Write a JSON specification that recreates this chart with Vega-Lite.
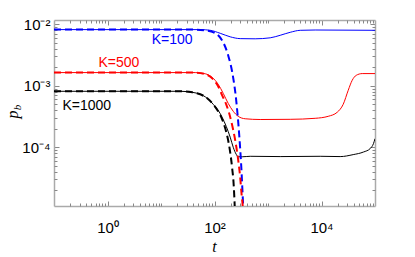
{
  "$schema": "https://vega.github.io/schema/vega-lite/v6.json",
  "width": 321,
  "height": 186,
  "autosize": {"type": "none"},
  "padding": {"left": 54, "top": 20, "right": 40, "bottom": 51},
  "background": "white",
  "config": {"view": {"stroke": null}, "axis": {"grid": false}},
  "datasets": {
    "lines": [
      {"s": "K=100", "k": "solid", "t": 0.1, "p": 0.0082},
      {"s": "K=100", "k": "solid", "t": 54.1, "p": 0.0082},
      {"s": "K=100", "k": "solid", "t": 83.2, "p": 0.00799},
      {"s": "K=100", "k": "solid", "t": 128, "p": 0.00714},
      {"s": "K=100", "k": "solid", "t": 196.5, "p": 0.00626},
      {"s": "K=100", "k": "solid", "t": 302, "p": 0.00585},
      {"s": "K=100", "k": "solid", "t": 576, "p": 0.00581},
      {"s": "K=100", "k": "solid", "t": 1100, "p": 0.00603},
      {"s": "K=100", "k": "solid", "t": 1690, "p": 0.00663},
      {"s": "K=100", "k": "solid", "t": 2600, "p": 0.00741},
      {"s": "K=100", "k": "solid", "t": 4000, "p": 0.00799},
      {"s": "K=100", "k": "solid", "t": 7620, "p": 0.00808},
      {"s": "K=100", "k": "solid", "t": 100000, "p": 0.00799},

      {"s": "K=100", "k": "dashed", "t": 0.1, "p": 0.0082},
      {"s": "K=100", "k": "dashed", "t": 43.6, "p": 0.0082},
      {"s": "K=100", "k": "dashed", "t": 67, "p": 0.00799},
      {"s": "K=100", "k": "dashed", "t": 90.6, "p": 0.00755},
      {"s": "K=100", "k": "dashed", "t": 117, "p": 0.00663},
      {"s": "K=100", "k": "dashed", "t": 145.5, "p": 0.00509},
      {"s": "K=100", "k": "dashed", "t": 180, "p": 0.00313},
      {"s": "K=100", "k": "dashed", "t": 214, "p": 0.00168},
      {"s": "K=100", "k": "dashed", "t": 254.5, "p": 0.000581},
      {"s": "K=100", "k": "dashed", "t": 290, "p": 0.000157},
      {"s": "K=100", "k": "dashed", "t": 315.5, "p": 0.0000509},
      {"s": "K=100", "k": "dashed", "t": 344, "p": 0.000011},
      {"s": "K=100", "k": "dashed", "t": 375, "p": 0.00000308},

      {"s": "K=500", "k": "solid", "t": 0.1, "p": 0.00164},
      {"s": "K=500", "k": "solid", "t": 43.6, "p": 0.00164},
      {"s": "K=500", "k": "solid", "t": 67, "p": 0.00157},
      {"s": "K=500", "k": "solid", "t": 90.6, "p": 0.00137},
      {"s": "K=500", "k": "solid", "t": 117, "p": 0.00106},
      {"s": "K=500", "k": "solid", "t": 145.5, "p": 0.000755},
      {"s": "K=500", "k": "solid", "t": 180, "p": 0.000519},
      {"s": "K=500", "k": "solid", "t": 224, "p": 0.000385},
      {"s": "K=500", "k": "solid", "t": 277.5, "p": 0.000319},
      {"s": "K=500", "k": "solid", "t": 375, "p": 0.000291},
      {"s": "K=500", "k": "solid", "t": 715, "p": 0.000283},
      {"s": "K=500", "k": "solid", "t": 2600, "p": 0.000285},
      {"s": "K=500", "k": "solid", "t": 7620, "p": 0.000296},
      {"s": "K=500", "k": "solid", "t": 13340, "p": 0.000319},
      {"s": "K=500", "k": "solid", "t": 19650, "p": 0.000371},
      {"s": "K=500", "k": "solid", "t": 25450, "p": 0.0005},
      {"s": "K=500", "k": "solid", "t": 31580, "p": 0.000845},
      {"s": "K=500", "k": "solid", "t": 37500, "p": 0.00123},
      {"s": "K=500", "k": "solid", "t": 44550, "p": 0.00148},
      {"s": "K=500", "k": "solid", "t": 57700, "p": 0.00158},
      {"s": "K=500", "k": "solid", "t": 100000, "p": 0.00158},

      {"s": "K=500", "k": "dashed", "t": 0.1, "p": 0.00164},
      {"s": "K=500", "k": "dashed", "t": 43.6, "p": 0.00164},
      {"s": "K=500", "k": "dashed", "t": 67, "p": 0.00155},
      {"s": "K=500", "k": "dashed", "t": 90.6, "p": 0.00132},
      {"s": "K=500", "k": "dashed", "t": 117, "p": 0.000982},
      {"s": "K=500", "k": "dashed", "t": 139, "p": 0.000701},
      {"s": "K=500", "k": "dashed", "t": 165.5, "p": 0.0005},
      {"s": "K=500", "k": "dashed", "t": 188, "p": 0.000357},
      {"s": "K=500", "k": "dashed", "t": 214, "p": 0.000228},
      {"s": "K=500", "k": "dashed", "t": 243.8, "p": 0.00013},
      {"s": "K=500", "k": "dashed", "t": 271.5, "p": 0.0000714},
      {"s": "K=500", "k": "dashed", "t": 302, "p": 0.0000325},
      {"s": "K=500", "k": "dashed", "t": 322, "p": 0.0000166},
      {"s": "K=500", "k": "dashed", "t": 336.6, "p": 0.000011},
      {"s": "K=500", "k": "dashed", "t": 359, "p": 0.00000308},

      {"s": "K=1000", "k": "solid", "t": 0.1, "p": 0.000814},
      {"s": "K=1000", "k": "solid", "t": 22.9, "p": 0.000814},
      {"s": "K=1000", "k": "solid", "t": 38.3, "p": 0.000784},
      {"s": "K=1000", "k": "solid", "t": 54.1, "p": 0.000728},
      {"s": "K=1000", "k": "solid", "t": 73.1, "p": 0.000627},
      {"s": "K=1000", "k": "solid", "t": 94.6, "p": 0.0005},
      {"s": "K=1000", "k": "solid", "t": 117, "p": 0.0004},
      {"s": "K=1000", "k": "solid", "t": 139, "p": 0.000308},
      {"s": "K=1000", "k": "solid", "t": 165.5, "p": 0.000219},
      {"s": "K=1000", "k": "solid", "t": 196.5, "p": 0.000146},
      {"s": "K=1000", "k": "solid", "t": 224, "p": 0.0001},
      {"s": "K=1000", "k": "solid", "t": 254.5, "p": 0.0000769},
      {"s": "K=1000", "k": "solid", "t": 277.5, "p": 0.0000701},
      {"s": "K=1000", "k": "solid", "t": 329.6, "p": 0.0000701},
      {"s": "K=1000", "k": "solid", "t": 465, "p": 0.0000714},
      {"s": "K=1000", "k": "solid", "t": 1690, "p": 0.0000706},
      {"s": "K=1000", "k": "solid", "t": 9460, "p": 0.0000714},
      {"s": "K=1000", "k": "solid", "t": 22350, "p": 0.0000706},
      {"s": "K=1000", "k": "solid", "t": 39130, "p": 0.000076},
      {"s": "K=1000", "k": "solid", "t": 60950, "p": 0.0000838},
      {"s": "K=1000", "k": "solid", "t": 81300, "p": 0.0000953},
      {"s": "K=1000", "k": "solid", "t": 93700, "p": 0.000115},
      {"s": "K=1000", "k": "solid", "t": 100000, "p": 0.000138},

      {"s": "K=1000", "k": "dashed", "t": 0.1, "p": 0.000814},
      {"s": "K=1000", "k": "dashed", "t": 22.9, "p": 0.000814},
      {"s": "K=1000", "k": "dashed", "t": 38.3, "p": 0.000784},
      {"s": "K=1000", "k": "dashed", "t": 54.1, "p": 0.000728},
      {"s": "K=1000", "k": "dashed", "t": 73.1, "p": 0.000627},
      {"s": "K=1000", "k": "dashed", "t": 94.6, "p": 0.0005},
      {"s": "K=1000", "k": "dashed", "t": 117, "p": 0.000385},
      {"s": "K=1000", "k": "dashed", "t": 139, "p": 0.000285},
      {"s": "K=1000", "k": "dashed", "t": 158.6, "p": 0.000204},
      {"s": "K=1000", "k": "dashed", "t": 180, "p": 0.00013},
      {"s": "K=1000", "k": "dashed", "t": 196.5, "p": 0.0000829},
      {"s": "K=1000", "k": "dashed", "t": 214, "p": 0.0000456},
      {"s": "K=1000", "k": "dashed", "t": 228.6, "p": 0.0000241},
      {"s": "K=1000", "k": "dashed", "t": 238.6, "p": 0.000011},
      {"s": "K=1000", "k": "dashed", "t": 249, "p": 0.00000308}
    ],
    "labels": [
      {"s": "K=100", "t": 16.2, "p": 0.0055},
      {"s": "K=500", "t": 1.63, "p": 0.00232},
      {"s": "K=1000", "t": 0.409, "p": 0.000464}
    ]
  },
  "layer": [
    {
      "data": {"name": "lines"},
      "transform": [{"filter": "datum.k == 'solid'"}],
      "mark": {"type": "line", "strokeWidth": 1, "clip": true, "interpolate": "monotone"},
      "encoding": {
        "x": {"field": "t", "type": "quantitative",
          "scale": {"type": "log", "domain": [0.1, 100000], "nice": false},
          "axis": {"orient": "bottom", "values": [1, 100, 10000],
            "labelExpr": "datum.value == 1 ? '10⁰' : datum.value == 100 ? '10²' : '10⁴'",
            "tickSize": -5, "tickColor": "#888888", "domainColor": "#aaaaaa", "domainWidth": 1.5,
            "labelFont": "Liberation Sans", "labelFontSize": 15, "labelColor": "#000000", "labelPadding": 19, "labelDx": 2,
            "title": "t", "titleFont": "Liberation Serif", "titleFontStyle": "italic", "titleFontWeight": "normal",
            "titleFontSize": 16, "titleColor": "#000000", "titleX": 160, "titleY": 45.5, "titleBaseline": "alphabetic", "titleAlign": "center"}},
        "y": {"field": "p", "type": "quantitative",
          "scale": {"type": "log", "domain": [0.0000111, 0.01175], "nice": false},
          "axis": {"orient": "left", "values": [0.01, 0.001, 0.0001],
            "labelExpr": "datum.value > 0.005 ? '10⁻²' : datum.value > 0.0005 ? '10⁻³' : '10⁻⁴'",
            "tickSize": -5, "tickColor": "#888888", "domainColor": "#aaaaaa", "domainWidth": 1.5,
            "labelFont": "Liberation Sans", "labelFontSize": 15, "labelColor": "#000000", "labelPadding": 9,
            "title": "p", "titleFont": "Liberation Serif", "titleFontStyle": "italic", "titleFontWeight": "normal",
            "titleFontSize": 16, "titleColor": "#000000", "titleAngle": -90, "titleX": -37, "titleY": 94,
            "titleBaseline": "alphabetic", "titleAlign": "center"}},
        "color": {"field": "s", "type": "nominal",
          "scale": {"domain": ["K=100", "K=500", "K=1000"], "range": ["#0000ff", "#ff0000", "#000000"]},
          "legend": null}
      }
    },
    {
      "data": {"name": "lines"},
      "transform": [{"filter": "datum.k == 'dashed'"}],
      "mark": {"type": "line", "strokeWidth": 2, "strokeDash": [7, 4], "clip": true, "interpolate": "monotone"},
      "encoding": {
        "x": {"field": "t", "type": "quantitative",
          "scale": {"type": "log", "domain": [0.1, 100000], "nice": false},
          "axis": {"orient": "bottom", "values": [0.2, 0.3, 0.4, 0.5, 0.6, 0.7, 0.8, 0.9, 2, 3, 4, 5, 6, 7, 8, 9, 10, 20, 30, 40, 50, 60, 70, 80, 90, 200, 300, 400, 500, 600, 700, 800, 900, 1000, 2000, 3000, 4000, 5000, 6000, 7000, 8000, 9000, 20000, 30000, 40000, 50000, 60000, 70000, 80000, 90000],
            "labels": false, "domain": false, "tickSize": -3, "tickColor": "#888888", "title": null}},
        "y": {"field": "p", "type": "quantitative",
          "scale": {"type": "log", "domain": [0.0000111, 0.01175], "nice": false},
          "axis": {"orient": "left", "values": [0.00002, 0.00003, 0.00004, 0.00005, 0.00006, 0.00007, 0.00008, 0.00009, 0.0002, 0.0003, 0.0004, 0.0005, 0.0006, 0.0007, 0.0008, 0.0009, 0.002, 0.003, 0.004, 0.005, 0.006, 0.007, 0.008, 0.009],
            "labels": false, "domain": false, "tickSize": -3, "tickColor": "#888888", "title": null}},
        "color": {"field": "s", "type": "nominal",
          "scale": {"domain": ["K=100", "K=500", "K=1000"], "range": ["#0000ff", "#ff0000", "#000000"]},
          "legend": null}
      }
    },
    {
      "data": {"name": "labels"},
      "mark": {"type": "text", "font": "Liberation Sans", "fontSize": 14, "align": "center", "baseline": "middle"},
      "encoding": {
        "x": {"field": "t", "type": "quantitative",
          "scale": {"type": "log", "domain": [0.1, 100000], "nice": false},
          "axis": {"orient": "top", "values": [1, 100, 10000], "labels": false, "tickSize": -5,
            "tickColor": "#888888", "domainColor": "#aaaaaa", "domainWidth": 1.5, "title": null}},
        "y": {"field": "p", "type": "quantitative",
          "scale": {"type": "log", "domain": [0.0000111, 0.01175], "nice": false},
          "axis": {"orient": "right", "values": [0.01, 0.001, 0.0001], "labels": false, "tickSize": -5,
            "tickColor": "#888888", "domainColor": "#aaaaaa", "domainWidth": 1.5, "title": null}},
        "text": {"field": "s"},
        "color": {"field": "s", "type": "nominal",
          "scale": {"domain": ["K=100", "K=500", "K=1000"], "range": ["#0000ff", "#ff0000", "#000000"]},
          "legend": null}
      }
    },
    {
      "data": {"name": "labels"},
      "mark": {"type": "point", "opacity": 0},
      "encoding": {
        "x": {"field": "t", "type": "quantitative",
          "scale": {"type": "log", "domain": [0.1, 100000], "nice": false},
          "axis": {"orient": "top", "values": [0.2, 0.3, 0.4, 0.5, 0.6, 0.7, 0.8, 0.9, 2, 3, 4, 5, 6, 7, 8, 9, 10, 20, 30, 40, 50, 60, 70, 80, 90, 200, 300, 400, 500, 600, 700, 800, 900, 1000, 2000, 3000, 4000, 5000, 6000, 7000, 8000, 9000, 20000, 30000, 40000, 50000, 60000, 70000, 80000, 90000],
            "labels": false, "domain": false, "tickSize": -3, "tickColor": "#888888", "title": null}},
        "y": {"field": "p", "type": "quantitative",
          "scale": {"type": "log", "domain": [0.0000111, 0.01175], "nice": false},
          "axis": {"orient": "right", "values": [0.00002, 0.00003, 0.00004, 0.00005, 0.00006, 0.00007, 0.00008, 0.00009, 0.0002, 0.0003, 0.0004, 0.0005, 0.0006, 0.0007, 0.0008, 0.0009, 0.002, 0.003, 0.004, 0.005, 0.006, 0.007, 0.008, 0.009],
            "labels": false, "domain": false, "tickSize": -3, "tickColor": "#888888", "title": null}}
      }
    },
    {
      "data": {"name": "labels"},
      "mark": {"type": "point", "opacity": 0},
      "encoding": {
        "x": {"field": "t", "type": "quantitative",
          "scale": {"type": "log", "domain": [0.1, 100000], "nice": false}, "axis": null},
        "y": {"field": "p", "type": "quantitative",
          "scale": {"type": "log", "domain": [0.0000111, 0.01175], "nice": false},
          "axis": {"orient": "left", "labels": false, "ticks": false, "domain": false,
            "title": "b", "titleFont": "Liberation Serif", "titleFontStyle": "italic", "titleFontWeight": "normal",
            "titleFontSize": 11, "titleColor": "#000000", "titleAngle": -90, "titleX": -33.5, "titleY": 87,
            "titleBaseline": "alphabetic", "titleAlign": "center"}}
      }
    }
  ],
  "resolve": {"axis": {"x": "independent", "y": "independent"}}
}
